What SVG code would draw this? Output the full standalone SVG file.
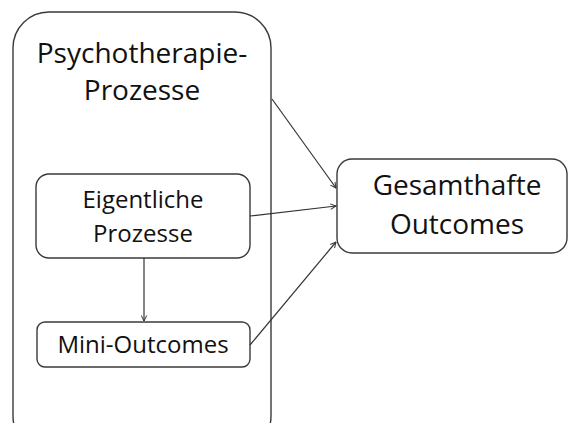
<svg xmlns="http://www.w3.org/2000/svg" width="569" height="423" viewBox="0 0 569 423">
<style>
.box{fill:#fff;stroke:#3a3a3a;stroke-width:1.4}
.t{font-family:"Open Sans","Liberation Sans",Arial,sans-serif;fill:#111;text-anchor:middle}
.c{stroke:#333;stroke-width:1.2;fill:none;marker-end:url(#ah)}
</style>
<defs>
<marker id="ah" viewBox="0 0 10 10" refX="9" refY="5" markerWidth="7" markerHeight="7" markerUnits="userSpaceOnUse" orient="auto">
<path d="M1,1 L9,5 L1,9" fill="none" stroke="#333" stroke-width="1.4"/>
</marker>
</defs>
<rect width="569" height="423" fill="#fff"/>
<g id="psychotherapie-prozesse">
<rect class="box" x="13" y="12" width="258" height="440" rx="36"/>
<text class="t" x="142" y="63" font-size="28">Psychotherapie-</text>
<text class="t" x="142" y="100" font-size="28">Prozesse</text>
</g>
<g id="eigentliche-prozesse">
<rect class="box" x="36" y="174" width="214" height="84" rx="13"/>
<text class="t" x="143" y="208" font-size="24">Eigentliche</text>
<text class="t" x="143" y="242" font-size="24">Prozesse</text>
</g>
<g id="mini-outcomes">
<rect class="box" x="37" y="322" width="213" height="45" rx="8"/>
<text class="t" x="143" y="353" font-size="24">Mini-Outcomes</text>
</g>
<g id="gesamthafte-outcomes">
<rect class="box" x="337" y="159" width="230" height="94" rx="15"/>
<text class="t" x="457" y="195" font-size="28">Gesamthafte</text>
<text class="t" x="457" y="234" font-size="28">Outcomes</text>
</g>
<g id="connectors">
<line class="c" x1="144" y1="258" x2="144" y2="321"/>
<line class="c" x1="272" y1="99" x2="336" y2="188"/>
<line class="c" x1="250" y1="216" x2="336" y2="206"/>
<line class="c" x1="250" y1="345" x2="336" y2="242"/>
</g>
</svg>
